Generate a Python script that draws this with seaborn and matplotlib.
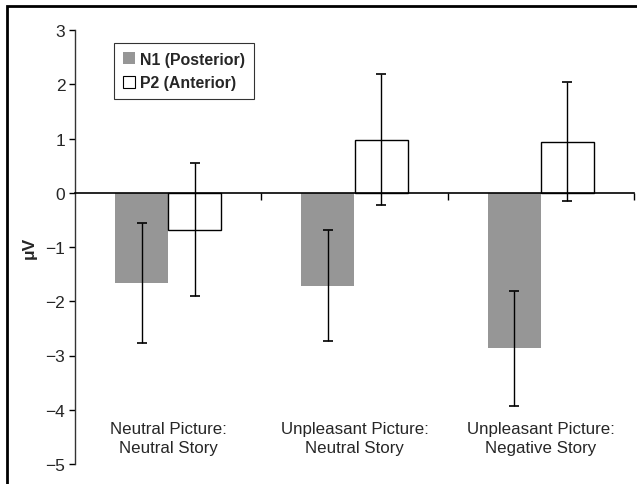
import pandas as pd
import numpy as np
import matplotlib
matplotlib.use("Agg")
import matplotlib.pyplot as plt
from matplotlib.patches import Patch, Rectangle
import seaborn as sns

# values (microvolts)
conditions = ["Neutral Picture:\nNeutral Story",
              "Unpleasant Picture:\nNeutral Story",
              "Unpleasant Picture:\nNegative Story"]
components = ["N1 (Posterior)", "P2 (Anterior)"]
n1_mean = [-1.66, -1.71, -2.87]
n1_err = [1.11, 1.02, 1.06]
p2_mean = [-0.68, 0.98, 0.94]
p2_err = [1.23, 1.20, 1.10]
yticks = [3, 2, 1, 0, -1, -2, -3, -4, -5]

df = pd.DataFrame({
    "condition": conditions * 2,
    "component": [components[0]] * 3 + [components[1]] * 3,
    "uV": n1_mean + p2_mean,
})

sns.set_theme(style="white")
plt.rcParams["font.family"] = ["Liberation Sans", "DejaVu Sans"]

fig = plt.figure(figsize=(6.37, 4.85), dpi=100)
ax = fig.add_axes([75/637, 1-465/485, (634-75)/637, (465-31)/485])

grey = "#969696"
sns.barplot(data=df, x="condition", y="uV", hue="component",
            palette=[grey, "white"], width=0.57, gap=0, errorbar=None,
            legend=False, ax=ax)

# grey bars without edge, white bars outlined
for bar in ax.containers[0]:
    bar.set_edgecolor("none")
for bar in ax.containers[1]:
    bar.set_edgecolor("black")
    bar.set_linewidth(1)

# error bars placed at the bar centres
for cont, means, errs in zip(ax.containers, [n1_mean, p2_mean], [n1_err, p2_err]):
    xs = [b.get_x() + b.get_width() / 2 for b in cont]
    ax.errorbar(xs, means, yerr=errs, fmt="none", ecolor="black",
                elinewidth=1, capsize=3.5, capthick=1.2, zorder=5)

ax.set_ylim(-5, 3)
ax.set_xlim(-0.5, 2.5)
ax.set_yticks(yticks)
ax.tick_params(axis="y", which="major", direction="out", length=4, width=1,
               left=True, labelsize=12.5, pad=3, color="black")
ax.set_xticks([])
ax.set_xticks([0.5, 1.5, 2.5], minor=True)
ax.tick_params(axis="x", which="minor", direction="out", length=5, width=1,
               bottom=True, color="black")
ax.set_xlabel("")
ax.set_ylabel("μV", fontsize=12.5, fontweight="bold", labelpad=6)

for s in ["top", "right"]:
    ax.spines[s].set_visible(False)
ax.spines["bottom"].set_position(("data", 0))
ax.spines["bottom"].set_color("black")
ax.spines["bottom"].set_linewidth(1.2)
ax.spines["left"].set_color("#333333")
ax.spines["left"].set_linewidth(1)

# condition names sit inside the plot, under the bars
for i, c in enumerate(conditions):
    ax.text(i, -4.52, c, ha="center", va="center", fontsize=12.2,
            linespacing=1.38)

handles = [Patch(facecolor=grey, edgecolor="none"),
           Patch(facecolor="white", edgecolor="black", linewidth=0.8)]
leg = ax.legend(handles, components, loc="upper left",
                bbox_to_anchor=(0.0698, 0.970), borderaxespad=0,
                frameon=True, fancybox=False,
                edgecolor="black", handlelength=0.75, handleheight=0.75,
                handletextpad=0.35, borderpad=0.55, labelspacing=0.55,
                prop={"weight": "bold", "size": 11.4})
leg.get_frame().set_linewidth(0.8)

# figure frame (left and top edges visible)
fig.add_artist(Rectangle((7/637, -0.1), 1.2, 1 - 7/485 + 0.1, fill=False,
                         lw=2, edgecolor="black", transform=fig.transFigure))

fig.savefig("out.png", dpi=100)
